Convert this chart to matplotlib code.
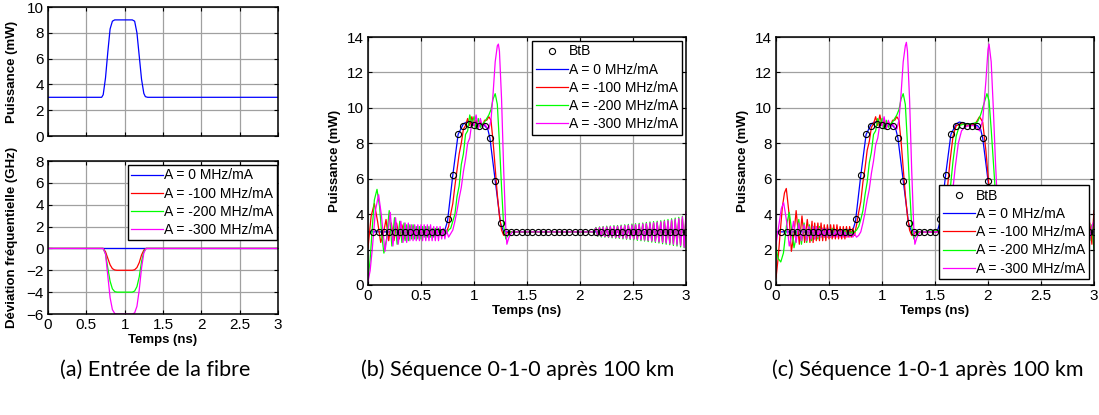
import numpy as np
import matplotlib
matplotlib.use("Agg")
import matplotlib.pyplot as plt

plt.rcParams['font.family'] = ['Liberation Sans', 'DejaVu Sans']

# ---------------- (a) entrée de la fibre ----------------
t_a_power = [0.0, 0.70, 0.72, 0.75, 0.78, 0.81, 0.84, 0.87, 0.90, 1.10, 1.13, 1.16, 1.19, 1.22, 1.25, 1.27, 1.30, 3.0]
p_a_power = [3.0, 3.0, 3.2, 4.5, 6.5, 8.3, 8.9, 9.0, 9.0, 9.0, 8.9, 8.0, 6.2, 4.4, 3.3, 3.05, 3.0, 3.0]

t_a_chirp = [0.0, 0.72, 0.75, 0.78, 0.81, 0.84, 0.87, 0.90, 1.10, 1.13, 1.16, 1.19, 1.22, 1.25, 1.28, 3.0]
chirp_0 = [0, 0, 0, 0, 0, 0, 0, 0, 0, 0, 0, 0, 0, 0, 0, 0]
chirp_100 = [0, 0, -0.3, -0.9, -1.5, -1.85, -1.97, -2, -2, -1.95, -1.75, -1.3, -0.6, -0.15, 0, 0]
chirp_200 = [0, 0, -0.5, -1.8, -3.0, -3.7, -3.95, -4, -4, -3.9, -3.5, -2.6, -1.2, -0.3, 0, 0]
chirp_300 = [0, 0, -0.5, -2.5, -4.5, -5.6, -5.95, -6, -6, -5.9, -5.3, -3.8, -1.8, -0.4, 0, 0]

legend_labels = ['A = 0 MHz/mA', 'A = -100 MHz/mA', 'A = -200 MHz/mA', 'A = -300 MHz/mA']
couleurs = ['#0000ff', '#ff0000', '#00ff00', '#ff00ff']

# ---------------- back-to-back (échantillons toutes les 0.05 ns) ----------------
t_btb = np.round(np.arange(1, 61) * 0.05, 2)
btb_010 = [3.0] * 14 + [3.7, 6.2, 8.5, 9.0, 9.1, 9.05, 9.0, 9.0, 8.3, 5.85, 3.5] + [3.0] * 35
btb_101 = ([3.0] * 14 + [3.7, 6.2, 8.5, 9.0, 9.1, 9.05, 9.0, 9.0, 8.3, 5.85, 3.5]
           + [3.0] * 5 + [3.7, 6.2, 8.5, 9.0, 9.05, 9.0, 9.0, 9.0, 8.3, 5.85, 3.5] + [3.0] * 19)

# ---------------- (b) séquence 0-1-0 ----------------
t_mid = np.linspace(0.35, 0.74, 27)
t_tail = np.linspace(2.15, 3.0, 51)

b0_t = [0.0, 0.72, 0.75, 0.80, 0.85, 0.90, 0.93, 1.00, 1.10, 1.13, 1.15, 1.20, 1.25, 1.28, 1.30, 3.0]
b0_p = [3.0, 3.0, 3.6, 6.2, 8.5, 9.1, 9.2, 9.1, 9.0, 8.8, 8.3, 5.9, 3.5, 3.0, 3.0, 3.0]

b100_head_t = [0.0, 0.03, 0.06, 0.09, 0.12, 0.145, 0.17, 0.195, 0.22, 0.245, 0.27, 0.295, 0.32]
b100_head_p = [2.1, 3.9, 4.6, 3.6, 2.4, 2.9, 3.7, 2.5, 3.5, 2.5, 3.5, 2.6, 3.4]
b100_mid = [2.6, 3.3, 2.7, 3.3, 2.7, 3.3, 2.7, 3.2, 2.7, 3.2, 2.8, 3.2, 2.8, 3.2, 2.8, 3.2,
            2.8, 3.1, 2.8, 3.1, 2.9, 3.1, 2.9, 3.1, 2.9, 3.1, 3.0]
b100_pulse_t = [0.76, 0.78, 0.80, 0.82, 0.84, 0.86, 0.88, 0.90, 0.92, 0.94, 0.96, 0.98, 1.00, 1.02, 1.04,
                1.06, 1.08, 1.10, 1.12, 1.14, 1.16, 1.18, 1.20, 1.22, 1.24, 1.26, 1.28, 1.30, 1.33, 2.13]
b100_pulse_p = [3.3, 4.0, 4.6, 5.6, 6.5, 7.4, 8.0, 8.8, 9.0, 9.4, 9.0, 9.5, 9.0, 9.3, 8.9,
                9.2, 9.0, 9.3, 9.3, 9.5, 9.3, 8.1, 6.6, 5.1, 3.9, 3.1, 2.8, 2.9, 3.0, 3.0]
b100_tail = [3.2, 2.78, 3.23, 2.76, 3.25, 2.75, 3.26, 2.73, 3.27, 2.72, 3.28, 2.70, 3.29, 2.69,
             3.31, 2.67, 3.33, 2.65, 3.34, 2.64, 3.35, 2.62, 3.37, 2.60, 3.39, 2.58, 3.41, 2.56,
             3.43, 2.54, 3.45, 2.52, 3.47, 2.50, 3.49, 2.47, 3.51, 2.45, 3.54, 2.42, 3.57, 2.39,
             3.60, 2.36, 3.63, 2.33, 3.67, 2.29, 3.72, 2.25, 3.8]

b200_head_t = [0.0, 0.02, 0.04, 0.06, 0.085, 0.11, 0.13, 0.15, 0.175, 0.20, 0.225, 0.25, 0.275, 0.30, 0.32, 0.34]
b200_head_p = [0.3, 1.4, 3.2, 4.8, 5.4, 4.4, 2.8, 1.8, 2.6, 4.2, 2.2, 3.8, 2.3, 3.6, 2.4, 3.5]
b200_mid = [2.5, 3.4, 2.5, 3.4, 2.6, 3.4, 2.6, 3.3, 2.6, 3.3, 2.6, 3.3, 2.7, 3.3, 2.7, 3.3,
            2.7, 3.2, 2.7, 3.2, 2.8, 3.2, 2.8, 3.1, 2.8, 3.1, 2.9]
b200_pulse_t = [0.76, 0.78, 0.80, 0.82, 0.84, 0.86, 0.88, 0.90, 0.92, 0.94, 0.96, 0.98, 1.00, 1.02, 1.04,
                1.06, 1.08, 1.10, 1.12, 1.14, 1.16, 1.18, 1.20, 1.22, 1.24, 1.26, 1.28, 1.30, 1.32, 1.35, 2.13]
b200_pulse_p = [3.1, 3.2, 3.6, 4.0, 5.0, 5.6, 6.8, 7.4, 8.5, 8.7, 9.6, 9.1, 9.5, 8.8, 9.4,
                8.9, 9.1, 9.2, 9.4, 9.6, 9.9, 10.5, 10.8, 10.2, 8.0, 5.5, 3.3, 2.6, 2.8, 3.0, 3.0]
b200_tail = [3.25, 2.74, 3.28, 2.71, 3.30, 2.70, 3.32, 2.68, 3.33, 2.66, 3.35, 2.64, 3.36, 2.63,
             3.38, 2.60, 3.40, 2.58, 3.42, 2.57, 3.44, 2.55, 3.46, 2.52, 3.48, 2.50, 3.50, 2.48,
             3.53, 2.45, 3.56, 2.42, 3.58, 2.40, 3.60, 2.37, 3.63, 2.33, 3.66, 2.30, 3.70, 2.27,
             3.74, 2.23, 3.78, 2.20, 3.82, 2.15, 3.88, 2.10, 3.95]

b300_head_t = [0.0, 0.02, 0.04, 0.07, 0.10, 0.125, 0.16, 0.185, 0.21, 0.235, 0.26, 0.285, 0.31, 0.33]
b300_head_p = [0.2, 0.8, 2.0, 4.2, 5.1, 4.0, 1.9, 2.9, 4.1, 2.2, 3.8, 2.3, 3.6, 2.4]
b300_mid = [3.5, 2.4, 3.5, 2.5, 3.4, 2.5, 3.4, 2.5, 3.4, 2.5, 3.4, 2.5, 3.4, 2.5, 3.4, 2.5,
            3.4, 2.5, 3.3, 2.5, 3.3, 2.5, 3.3, 2.6, 3.2, 2.6, 3.1]
b300_pulse_t = [0.76, 0.78, 0.80, 0.82, 0.84, 0.86, 0.88, 0.90, 0.92, 0.94, 0.96, 0.98, 1.00, 1.02, 1.04,
                1.06, 1.08, 1.10, 1.12, 1.14, 1.16, 1.18, 1.20, 1.22, 1.23, 1.24, 1.26, 1.28, 1.30, 1.31,
                1.33, 1.36, 2.13]
b300_pulse_p = [2.7, 2.9, 3.1, 3.6, 4.2, 4.9, 5.5, 6.4, 7.1, 8.0, 8.3, 9.2, 9.0, 9.6, 8.8,
                9.4, 8.9, 9.1, 8.9, 8.8, 9.3, 10.8, 12.6, 13.5, 13.6, 13.2, 10.5, 6.5, 3.2, 2.3,
                2.7, 3.0, 3.0]
b300_tail = [3.22, 2.77, 3.25, 2.74, 3.27, 2.73, 3.28, 2.71, 3.30, 2.70, 3.31, 2.68, 3.32, 2.67,
             3.34, 2.64, 3.36, 2.62, 3.38, 2.61, 3.39, 2.60, 3.41, 2.57, 3.43, 2.55, 3.45, 2.53,
             3.47, 2.51, 3.50, 2.48, 3.52, 2.46, 3.54, 2.43, 3.57, 2.40, 3.60, 2.37, 3.63, 2.34,
             3.67, 2.30, 3.71, 2.27, 3.75, 2.22, 3.85, 2.12, 4.15]

# ---------------- (c) séquence 1-0-1 ----------------
c0_t = [0.0, 0.72, 0.75, 0.80, 0.85, 0.90, 0.93, 1.00, 1.10, 1.13, 1.15, 1.20, 1.25, 1.28, 1.30,
        1.52, 1.55, 1.60, 1.65, 1.70, 1.73, 1.80, 1.90, 1.93, 1.95, 2.00, 2.05, 2.08, 3.0]
c0_p = [3.0, 3.0, 3.6, 6.2, 8.5, 9.1, 9.2, 9.1, 9.0, 8.8, 8.3, 5.9, 3.5, 3.0, 3.0,
        3.0, 3.6, 6.2, 8.5, 9.1, 9.2, 9.1, 9.0, 8.8, 8.3, 5.9, 3.5, 3.0, 3.0]

c100_head_t = [0.0, 0.02, 0.04, 0.06, 0.08, 0.097, 0.12, 0.145, 0.17, 0.19, 0.22, 0.245, 0.27, 0.295, 0.32, 0.34]
c100_head_p = [0.4, 1.5, 3.0, 4.4, 5.2, 5.45, 4.2, 1.9, 2.9, 4.2, 2.3, 3.9, 2.4, 3.7, 2.4, 3.6]
c100_mid = [2.4, 3.5, 2.5, 3.5, 2.5, 3.5, 2.5, 3.4, 2.5, 3.4, 2.6, 3.4, 2.6, 3.4, 2.6, 3.4,
            2.6, 3.3, 2.6, 3.3, 2.6, 3.3, 2.7, 3.3, 2.7, 3.2, 2.8]
c100_pulse_t = [0.76, 0.78, 0.80, 0.82, 0.84, 0.86, 0.88, 0.90, 0.92, 0.94, 0.96, 0.98, 1.00, 1.02, 1.04,
                1.06, 1.08, 1.10, 1.12, 1.14, 1.16, 1.18, 1.20, 1.22, 1.24, 1.26, 1.28, 1.30, 1.33,
                1.55, 1.58, 1.61, 1.64, 1.67, 1.70, 1.75, 1.82, 1.88, 1.92, 1.95, 1.98, 2.01, 2.04, 2.07,
                2.10, 2.90, 2.93, 2.96, 2.98, 3.0]
c100_pulse_p = [3.4, 4.1, 4.7, 5.8, 6.6, 7.6, 8.1, 8.9, 9.1, 9.5, 9.0, 9.6, 9.0, 9.3, 8.9,
                9.2, 9.0, 9.3, 9.3, 9.5, 9.3, 8.1, 6.6, 5.1, 3.9, 3.1, 2.8, 2.9, 3.0,
                3.0, 3.6, 5.0, 6.9, 8.4, 9.0, 9.1, 9.0, 9.1, 9.5, 9.2, 7.6, 5.5, 3.8, 3.0,
                3.0, 3.0, 2.5, 3.5, 2.3, 4.2]

c200_head_t = [0.0, 0.02, 0.045, 0.07, 0.10, 0.125, 0.15, 0.17, 0.19, 0.215, 0.24, 0.265, 0.29, 0.315, 0.335]
c200_head_p = [2.1, 1.5, 1.3, 1.8, 3.4, 4.1, 3.0, 2.1, 2.7, 3.7, 2.3, 3.5, 2.4, 3.4, 2.5]
c200_mid = [3.3, 2.6, 3.3, 2.6, 3.3, 2.7, 3.2, 2.7, 3.2, 2.7, 3.2, 2.7, 3.2, 2.8, 3.1, 2.8,
            3.1, 2.8, 3.1, 2.8, 3.1, 2.8, 3.1, 2.8, 3.0, 2.9, 3.0]
c200_pulse_t = [0.76, 0.78, 0.80, 0.82, 0.84, 0.86, 0.88, 0.90, 0.92, 0.94, 0.96, 0.98, 1.00, 1.02, 1.04,
                1.06, 1.08, 1.10, 1.12, 1.14, 1.16, 1.18, 1.20, 1.22, 1.24, 1.26, 1.28, 1.30, 1.32, 1.35,
                1.58, 1.61, 1.64, 1.67, 1.70, 1.73, 1.78, 1.85, 1.90, 1.93, 1.96, 1.99, 2.01, 2.03, 2.05,
                2.07, 2.09, 2.11, 2.14, 2.90, 2.93, 2.96, 2.98, 3.0]
c200_pulse_p = [3.1, 3.3, 3.7, 4.2, 5.1, 5.8, 6.9, 7.5, 8.5, 8.7, 9.4, 9.0, 9.4, 8.8, 9.3,
                8.9, 9.1, 9.2, 9.4, 9.6, 9.9, 10.5, 10.8, 10.2, 8.0, 5.5, 3.3, 2.6, 2.8, 3.0,
                3.1, 3.8, 5.2, 7.0, 8.4, 9.0, 9.1, 9.1, 9.2, 9.6, 10.2, 10.8, 10.4, 8.8, 7.0,
                5.2, 3.5, 2.8, 3.0, 3.0, 3.4, 2.5, 3.4, 2.0]

c300_head_t = [0.0, 0.025, 0.05, 0.072, 0.10, 0.125, 0.14, 0.165, 0.19, 0.215, 0.24, 0.265, 0.29, 0.31, 0.33]
c300_head_p = [2.3, 3.3, 4.3, 4.65, 3.6, 2.2, 2.6, 3.6, 2.4, 3.5, 2.5, 3.4, 2.5, 3.3, 2.6]
c300_mid = [3.3, 2.6, 3.3, 2.7, 3.2, 2.7, 3.2, 2.7, 3.2, 2.7, 3.2, 2.7, 3.1, 2.7, 3.1, 2.7,
            3.1, 2.7, 3.1, 2.7, 3.0, 2.7, 3.0, 2.7, 2.9, 2.7, 2.9]
c300_pulse_t = [0.76, 0.78, 0.80, 0.82, 0.84, 0.86, 0.88, 0.90, 0.92, 0.94, 0.96, 0.98, 1.00, 1.02, 1.04,
                1.06, 1.08, 1.10, 1.12, 1.14, 1.16, 1.18, 1.20, 1.22, 1.23, 1.24, 1.26, 1.28, 1.30, 1.31,
                1.33, 1.36, 1.60, 1.63, 1.66, 1.69, 1.72, 1.75, 1.78, 1.82, 1.88, 1.92, 1.95, 1.98,
                2.00, 2.01, 2.03, 2.05, 2.07, 2.09, 2.11, 2.12, 2.15, 2.18, 2.90, 2.93, 2.96, 2.98, 3.0]
c300_pulse_p = [2.7, 2.8, 3.0, 3.5, 4.1, 4.8, 5.4, 6.3, 7.0, 7.9, 8.3, 9.1, 9.0, 9.5, 8.8,
                9.3, 8.9, 9.1, 8.9, 8.8, 9.3, 10.8, 12.6, 13.5, 13.7, 13.2, 10.5, 6.5, 3.2, 2.3,
                2.7, 3.0, 3.0, 3.6, 4.9, 6.6, 8.0, 8.7, 8.9, 9.0, 9.0, 8.7, 9.3, 11.5,
                13.3, 13.6, 12.6, 10.0, 7.0, 4.5, 2.9, 2.3, 2.8, 3.0, 3.0, 3.3, 2.6, 3.3, 3.6]


def courbe(head_t, head_p, mid_p, pulse_t, pulse_p, tail_p=None):
    t = np.concatenate([head_t, t_mid, pulse_t])
    p = np.concatenate([head_p, mid_p, pulse_p])
    if tail_p is not None:
        t = np.concatenate([t, t_tail])
        p = np.concatenate([p, tail_p])
    return t, p


courbes_b = [(b0_t, b0_p),
             courbe(b100_head_t, b100_head_p, b100_mid, b100_pulse_t, b100_pulse_p, b100_tail),
             courbe(b200_head_t, b200_head_p, b200_mid, b200_pulse_t, b200_pulse_p, b200_tail),
             courbe(b300_head_t, b300_head_p, b300_mid, b300_pulse_t, b300_pulse_p, b300_tail)]
courbes_c = [(c0_t, c0_p),
             courbe(c100_head_t, c100_head_p, c100_mid, c100_pulse_t, c100_pulse_p),
             courbe(c200_head_t, c200_head_p, c200_mid, c200_pulse_t, c200_pulse_p),
             courbe(c300_head_t, c300_head_p, c300_mid, c300_pulse_t, c300_pulse_p)]

# ---------------- figure ----------------
fig = plt.figure(figsize=(10.99, 4.15), dpi=100)
W, H = 1099.0, 415.0


def axes_px(x0, y0, x1, y1):
    return fig.add_axes([x0 / W, 1 - y1 / H, (x1 - x0) / W, (y1 - y0) / H])


def style(ax):
    ax.grid(True, color='#a0a0a0', linewidth=0.9)
    ax.set_axisbelow(True)
    ax.tick_params(direction='in', top=True, right=True, length=3, width=0.8,
                   labelsize=11, pad=3)
    for s in ax.spines.values():
        s.set_linewidth(1.1)
    ax.set_xlim(0, 3)
    ax.set_xticks([0, 0.5, 1, 1.5, 2, 2.5, 3])
    ax.set_xticklabels(['0', '0.5', '1', '1.5', '2', '2.5', '3'])


lab = dict(fontsize=9.5, fontweight='bold')
leg_kw = dict(fontsize=10, frameon=True, fancybox=False, framealpha=1, edgecolor='black',
              handlelength=2.3, handletextpad=0.1, labelspacing=0.3, borderpad=0.25,
              borderaxespad=0)

# (a) haut : puissance
ax1 = axes_px(48, 7, 278, 136)
style(ax1)
ax1.plot(t_a_power, p_a_power, color='#0000ff', lw=0.9)
ax1.set_ylim(0, 10)
ax1.set_yticks([0, 2, 4, 6, 8, 10])
ax1.set_xticklabels([])
ax1.set_ylabel('Puissance (mW)', **lab)

# (a) bas : déviation fréquentielle
ax2 = axes_px(48, 161, 278, 314)
style(ax2)
for serie, c, l in zip([chirp_0, chirp_100, chirp_200, chirp_300], couleurs, legend_labels):
    ax2.plot(t_a_chirp, serie, color=c, lw=0.9, label=l)
ax2.set_ylim(-6, 8)
ax2.set_yticks(range(-6, 9, 2))
ax2.set_ylabel('Déviation fréquentielle (GHz)', **lab)
ax2.set_xlabel('Temps (ns)', labelpad=1, **lab)
ax2.legend(loc='upper right', bbox_to_anchor=(0.996, 0.974), **leg_kw)
ax1.yaxis.set_label_coords(-0.13, 0.5)
ax2.yaxis.set_label_coords(-0.13, 0.5)

# (b) et (c)
for x0, courbes, btb, leg_pos in [(368, courbes_b, btb_010, ('upper right', (0.987, 0.984))),
                                  (776, courbes_c, btb_101, ('lower right', (0.984, 0.024)))]:
    ax = axes_px(x0, 37, x0 + 318, 285)
    style(ax)
    handles = []
    for (t, p), c, l in zip(courbes, couleurs, legend_labels):
        h, = ax.plot(t, p, color=c, lw=0.9, label=l)
        handles.append(h)
    hb, = ax.plot(t_btb, btb, 'o', mfc='none', mec='black', ms=4.4, mew=0.8,
                  label='BtB', zorder=3)
    ax.set_ylim(0, 14)
    ax.set_yticks(range(0, 15, 2))
    ax.set_ylabel('Puissance (mW)', **lab)
    ax.set_xlabel('Temps (ns)', labelpad=1, **lab)
    leg = ax.legend([hb] + handles, ['BtB'] + legend_labels, loc=leg_pos[0],
                    bbox_to_anchor=leg_pos[1], **leg_kw)
    leg.set_zorder(5)

# légendes des sous-figures
cap = dict(fontsize=15.5, family=['Lato', 'DejaVu Sans'], ha='center', va='center')
fig.text(155 / W, 1 - 370 / H, '(a) Entrée de la fibre', **cap)
fig.text(518 / W, 1 - 370 / H, '(b) Séquence 0-1-0 après 100 km', **cap)
fig.text(928 / W, 1 - 370 / H, '(c) Séquence 1-0-1 après 100 km', **cap)

fig.savefig('out.png', dpi=100)
